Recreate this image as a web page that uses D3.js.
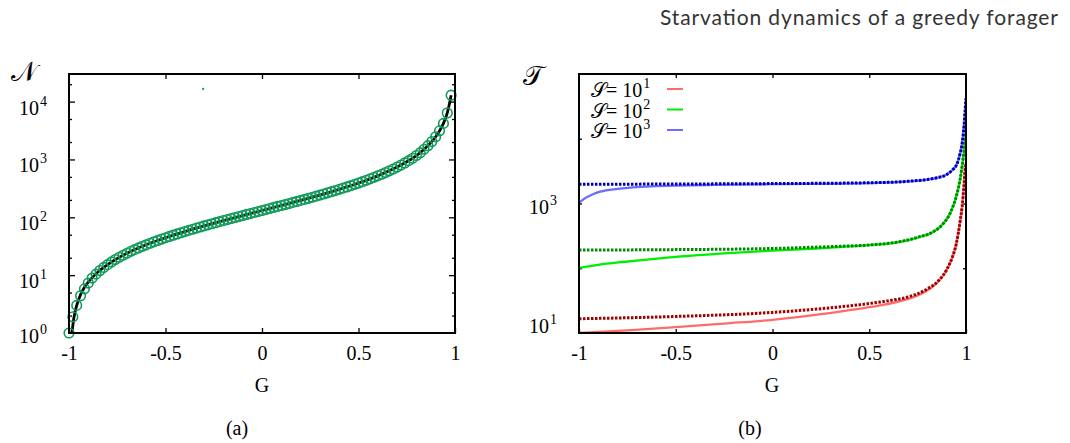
<!DOCTYPE html>
<html>
<head>
<meta charset="utf-8">
<script src="https://cdn.jsdelivr.net/npm/d3@7"></script>
<style>
  body { margin: 0; background: #fff; }
  svg text { font-family: "Liberation Serif", "DejaVu Serif", serif; fill: #000; }
</style>
</head>
<body>
<div id="chart"></div>
<script>
// panel (a): simulated points and theory line
var gVals = [-1, -0.98, -0.96, -0.94, -0.92, -0.9, -0.88, -0.86, -0.84, -0.82,
  -0.8, -0.78, -0.76, -0.74, -0.72, -0.7, -0.68, -0.66, -0.64, -0.62,
  -0.6, -0.58, -0.56, -0.54, -0.52, -0.5, -0.48, -0.46, -0.44, -0.42,
  -0.4, -0.38, -0.36, -0.34, -0.32, -0.3, -0.28, -0.26, -0.24, -0.22,
  -0.2, -0.18, -0.16, -0.14, -0.12, -0.1, -0.08, -0.06, -0.04, -0.02,
  0, 0.02, 0.04, 0.06, 0.08, 0.1, 0.12, 0.14, 0.16, 0.18,
  0.2, 0.22, 0.24, 0.26, 0.28, 0.3, 0.32, 0.34, 0.36, 0.38,
  0.4, 0.42, 0.44, 0.46, 0.48, 0.5, 0.52, 0.54, 0.56, 0.58,
  0.6, 0.62, 0.64, 0.66, 0.68, 0.7, 0.72, 0.74, 0.76, 0.78,
  0.8, 0.82, 0.84, 0.86, 0.88, 0.9, 0.92, 0.94, 0.96, 0.98];
var nVals = [1, 1.9, 3.0, 4.4, 5.8, 7.3, 8.9, 10.4, 12.0, 13.6,
  15.2, 16.9, 18.6, 20.3, 22.1, 23.9, 25.8, 27.6, 29.5, 31.5,
  33.5, 35.6, 37.7, 39.8, 42.1, 44.3, 46.7, 49.1, 51.6, 54.1,
  56.7, 59.4, 62.2, 65.0, 68.0, 71.0, 74.1, 77.3, 80.7, 84.1,
  87.7, 91.3, 95.1, 99.1, 103, 107, 112, 116, 121, 126,
  131, 136, 142, 148, 154, 160, 166, 173, 181, 188,
  196, 204, 213, 222, 232, 242, 253, 265, 277, 290,
  304, 319, 335, 352, 371, 391, 413, 436, 462, 490,
  521, 555, 593, 636, 684, 738, 800, 871, 954, 1050,
  1170, 1310, 1500, 1730, 2040, 2470, 3120, 4200, 6370, 12900];
var lineG = [-0.985, -0.975, -0.96, -0.94, -0.92, -0.9, -0.85, -0.8, -0.7, -0.6, -0.5,
  -0.4, -0.3, -0.2, -0.1, 0, 0.1, 0.2, 0.3, 0.4, 0.5, 0.6, 0.7, 0.75, 0.8, 0.85,
  0.9, 0.92, 0.94, 0.96, 0.97, 0.98];
var lineN = [1, 1.8, 3.0, 4.6, 6.2, 7.6, 11.3, 15.2, 23.9, 33.5, 44.3,
  56.7, 71, 87.7, 107, 131, 160, 196, 242, 304, 391, 521, 738, 910, 1170, 1610,
  2470, 3120, 4200, 6370, 8800, 12900];
var strayG = [-0.305];
var strayN = [16600];

// panel (b): T vs G for three S values
var redSolidG = [-1, -0.75, -0.5, -0.25, 0, 0.25, 0.5, 0.65, 0.75, 0.82, 0.86, 0.9, 0.93, 0.95, 0.97, 0.98, 0.99, 0.995, 1];
var redSolidT = [10, 11, 12.3, 14, 16, 19.5, 25, 30.5, 38, 50, 64, 94, 148, 238, 535, 890, 1980, 3180, 4250];
var redDotG = [-1, -0.5, 0, 0.3, 0.5, 0.6, 0.7, 0.8, 0.86, 0.9, 0.93, 0.95, 0.97, 0.98, 0.99, 0.995, 1];
var redDotT = [16.6, 18, 20.8, 24.5, 28.5, 31.5, 36, 48, 65, 95, 150, 240, 540, 900, 2000, 3200, 4300];
var greenSolidG = [-1, -0.9, -0.76, -0.5, -0.25, 0, 0.2, 0.35, 0.5, 0.66, 0.75, 0.83, 0.88, 0.92, 0.95, 0.97, 0.98, 0.99, 0.995, 1];
var greenSolidT = [101, 113, 126, 150, 170, 187, 200, 213, 227, 256, 298, 362, 477, 725, 1290, 2380, 3780, 6450, 8950, 12700];
var greenDotG = [-1, -0.5, 0, 0.3, 0.5, 0.66, 0.75, 0.83, 0.88, 0.92, 0.95, 0.97, 0.98, 0.99, 0.995, 1];
var greenDotT = [191, 194, 202, 216, 229, 258, 300, 365, 480, 730, 1300, 2400, 3800, 6500, 9000, 12800];
var blueSolidG = [-1, -0.97, -0.93, -0.89, -0.8, -0.72, -0.6, -0.5, -0.3, 0, 0.5, 0.7, 0.8, 0.85, 0.9, 0.93, 0.95, 0.97, 0.98, 0.99, 0.995, 1];
var blueSolidT = [1020, 1200, 1380, 1520, 1680, 1780, 1850, 1890, 1940, 1990, 2070, 2190, 2340, 2490, 2790, 3290, 3880, 5980, 8450, 15900, 25800, 41500];
var blueDotG = [-1, -0.5, 0, 0.5, 0.7, 0.8, 0.85, 0.9, 0.93, 0.95, 0.97, 0.98, 0.99, 0.995, 1];
var blueDotT = [1980, 2000, 2030, 2090, 2200, 2350, 2500, 2800, 3300, 3900, 6000, 8500, 16000, 26000, 42000];

var xTicks = [-1, -0.5, 0, 0.5, 1];
var xTickLabels = ["-1", "-0.5", "0", "0.5", "1"];
var nMajor = [1, 10, 100, 1000, 10000];
var nExp = ["0", "1", "2", "3", "4"];
var nMinor = [2, 5, 20, 50, 200, 500, 2000, 5000, 20000];
var tMajor = [10, 100, 1000, 10000, 100000];
var tLabelled = [10, 1000];
var tExp = ["1", "3"];
var legendExp = ["1", "2", "3"];

((() => {
  var width = 1070;
  var height = 443;

  var svg = d3.select("#chart")
    .append("svg")
    .attr("width", width)
    .attr("height", height);

  svg.append("text")
    .attr("x", 1058)
    .attr("y", 25)
    .attr("text-anchor", "end")
    .attr("textLength", 398)
    .attr("lengthAdjust", "spacing")
    .style("font-family", "Lato, 'Open Sans', sans-serif")
    .style("font-size", "21px")
    .style("fill", "#333")
    .text("Starvation dynamics of a greedy forager");

  // ---------- panel (a) ----------
  var xA = d3.scaleLinear().domain([-1, 1]).range([69, 455]);
  var yA = d3.scaleLog().domain([1, 30000]).range([333, 74]);

  var gA = svg.append("g").attr("class", "panel-a");

  function xAxes(g, x, y, size) {
    var bottom = g.append("g")
      .attr("transform", "translate(0," + y.range()[0] + ")")
      .call(d3.axisBottom(x).tickValues(xTicks).tickSize(-size).tickPadding(13)
        .tickFormat(function(d, i) { return xTickLabels[i]; }));
    g.append("g")
      .attr("transform", "translate(0," + y.range()[1] + ")")
      .call(d3.axisTop(x).tickValues(xTicks.slice(1, -1)).tickSize(-size).tickFormat(""));
    bottom.selectAll("text").style("font-size", "20px");
  }

  xAxes(gA, xA, yA, 5);

  gA.append("g")
    .attr("transform", "translate(" + xA.range()[0] + ",0)")
    .call(d3.axisLeft(yA).tickValues(nMajor.slice(1)).tickSize(-6).tickFormat(""));
  gA.append("g")
    .attr("transform", "translate(" + xA.range()[0] + ",0)")
    .call(d3.axisLeft(yA).tickValues(nMinor).tickSize(-3).tickFormat(""));
  gA.append("g")
    .attr("transform", "translate(" + xA.range()[1] + ",0)")
    .call(d3.axisRight(yA).tickValues(nMajor.slice(1)).tickSize(-6).tickFormat(""));
  gA.append("g")
    .attr("transform", "translate(" + xA.range()[1] + ",0)")
    .call(d3.axisRight(yA).tickValues(nMinor).tickSize(-3).tickFormat(""));

  var nLab = gA.selectAll("text.ylab")
    .data(nMajor)
    .enter()
    .append("text")
    .attr("class", "ylab")
    .attr("x", 47)
    .attr("y", function(d) { return yA(d) + (d === 1 ? 10 : 13); })
    .attr("text-anchor", "end")
    .style("font-size", "20px")
    .text("10");
  nLab.append("tspan")
    .attr("dy", -9)
    .attr("dx", 1)
    .style("font-size", "14px")
    .text(function(d, i) { return nExp[i]; });

  gA.selectAll(".domain").remove();
  gA.selectAll(".tick line").attr("stroke", "#000").attr("stroke-width", 1.3);

  var clipA = svg.append("clipPath").attr("id", "clipA");
  clipA.append("rect").attr("x", 69).attr("y", 74).attr("width", 386).attr("height", 259);

  var line = d3.line().curve(d3.curveMonotoneX);

  gA.append("path")
    .datum(lineG.map(function(g, i) { return [xA(g), yA(lineN[i])]; }))
    .attr("clip-path", "url(#clipA)")
    .attr("d", line)
    .attr("fill", "none")
    .attr("stroke", "#000")
    .attr("stroke-width", 2.8);

  gA.selectAll("circle.pt")
    .data(gVals)
    .enter()
    .append("circle")
    .attr("class", "pt")
    .attr("cx", function(d) { return xA(d); })
    .attr("cy", function(d, i) { return yA(nVals[i]); })
    .attr("r", 4.8)
    .attr("fill", "none")
    .attr("stroke", "#0f9a58")
    .attr("stroke-width", 1.6);

  gA.selectAll("rect.stray")
    .data(strayG)
    .enter()
    .append("rect")
    .attr("class", "stray")
    .attr("x", function(d) { return xA(d) - 1; })
    .attr("y", function(d, i) { return yA(strayN[i]) - 1; })
    .attr("width", 2)
    .attr("height", 2)
    .attr("fill", "#0f9a58");

  gA.append("rect")
    .attr("x", 69).attr("y", 74).attr("width", 386).attr("height", 259)
    .attr("fill", "none").attr("stroke", "#000").attr("stroke-width", 2);

  gA.append("text")
    .attr("x", 11).attr("y", 81)
    .style("font-size", "27px")
    .text("\u{1D4A9}");

  gA.append("text")
    .attr("x", 262).attr("y", 392)
    .attr("text-anchor", "middle")
    .style("font-size", "20px")
    .text("G");

  gA.append("text")
    .attr("x", 237).attr("y", 435)
    .attr("text-anchor", "middle")
    .style("font-size", "20px")
    .text("(a)");

  // ---------- panel (b) ----------
  var xB = d3.scaleLinear().domain([-1, 1]).range([579, 966]);
  var yB = d3.scaleLog().domain([10, 100000]).range([333, 74]);

  var gB = svg.append("g").attr("class", "panel-b");

  xAxes(gB, xB, yB, 4);

  gB.append("g")
    .attr("transform", "translate(" + xB.range()[0] + ",0)")
    .call(d3.axisLeft(yB).tickValues(tMajor.slice(1, -1)).tickSize(-3).tickFormat(""));
  gB.append("g")
    .attr("transform", "translate(" + xB.range()[1] + ",0)")
    .call(d3.axisRight(yB).tickValues(tMajor.slice(1, -1)).tickSize(-3).tickFormat(""));

  gB.selectAll(".domain").remove();
  gB.selectAll(".tick line").attr("stroke", "#000").attr("stroke-width", 1.3);

  var tLab = gB.selectAll("text.ylab")
    .data(tLabelled)
    .enter()
    .append("text")
    .attr("class", "ylab")
    .attr("x", 557)
    .attr("y", function(d) { return yB(d) + (d === 10 ? 0 : 10); })
    .attr("text-anchor", "end")
    .style("font-size", "20px")
    .text("10");
  tLab.append("tspan")
    .attr("dy", -9)
    .attr("dx", 1)
    .style("font-size", "14px")
    .text(function(d, i) { return tExp[i]; });

  var clipB = svg.append("clipPath").attr("id", "clipB");
  clipB.append("rect").attr("x", 579).attr("y", 74).attr("width", 387).attr("height", 259);

  var series = [
    { g: redSolidG, t: redSolidT, color: "#ff6b6b", w: 2.3, dash: null },
    { g: greenSolidG, t: greenSolidT, color: "#00ee00", w: 2.3, dash: null },
    { g: blueSolidG, t: blueSolidT, color: "#6b6bff", w: 2.3, dash: null },
    { g: redDotG, t: redDotT, color: "#a00000", w: 3, dash: "2.5,1.5" },
    { g: greenDotG, t: greenDotT, color: "#008a00", w: 3, dash: "2.5,1.5" },
    { g: blueDotG, t: blueDotT, color: "#0000b0", w: 3, dash: "2.5,1.5" }
  ];

  gB.selectAll("path.curve")
    .data(series)
    .enter()
    .append("path")
    .attr("class", "curve")
    .attr("clip-path", "url(#clipB)")
    .attr("d", function(s) {
      return line(s.g.map(function(g, i) { return [xB(g), yB(s.t[i])]; }));
    })
    .attr("fill", "none")
    .attr("stroke", function(s) { return s.color; })
    .attr("stroke-width", function(s) { return s.w; })
    .attr("stroke-dasharray", function(s) { return s.dash; });

  gB.append("rect")
    .attr("x", 579).attr("y", 74).attr("width", 387).attr("height", 259)
    .attr("fill", "none").attr("stroke", "#000").attr("stroke-width", 2);

  // handmade legend
  var legend = gB.append("g").attr("class", "legend");
  var rows = legend.selectAll("g")
    .data(legendExp)
    .enter()
    .append("g")
    .attr("transform", function(d, i) { return "translate(0," + (97 + i * 20.5) + ")"; });
  var lt = rows.append("text")
    .attr("x", 591)
    .attr("y", 0)
    .style("font-size", "20px")
    .text("\u{1D4AE}= 10");
  lt.append("tspan")
    .attr("dy", -9)
    .attr("dx", 1)
    .style("font-size", "14px")
    .text(function(d) { return d; });
  rows.append("line")
    .attr("x1", 667).attr("x2", 683)
    .attr("y1", -8).attr("y2", -8)
    .attr("stroke", function(d, i) { return series[i].color; })
    .attr("stroke-width", 2);

  gB.append("text")
    .attr("x", 523).attr("y", 85)
    .style("font-size", "27px")
    .text("\u{1D4AF}");

  gB.append("text")
    .attr("x", 772).attr("y", 392)
    .attr("text-anchor", "middle")
    .style("font-size", "20px")
    .text("G");

  gB.append("text")
    .attr("x", 750).attr("y", 435)
    .attr("text-anchor", "middle")
    .style("font-size", "20px")
    .text("(b)");
})());
</script>
</body>
</html>
